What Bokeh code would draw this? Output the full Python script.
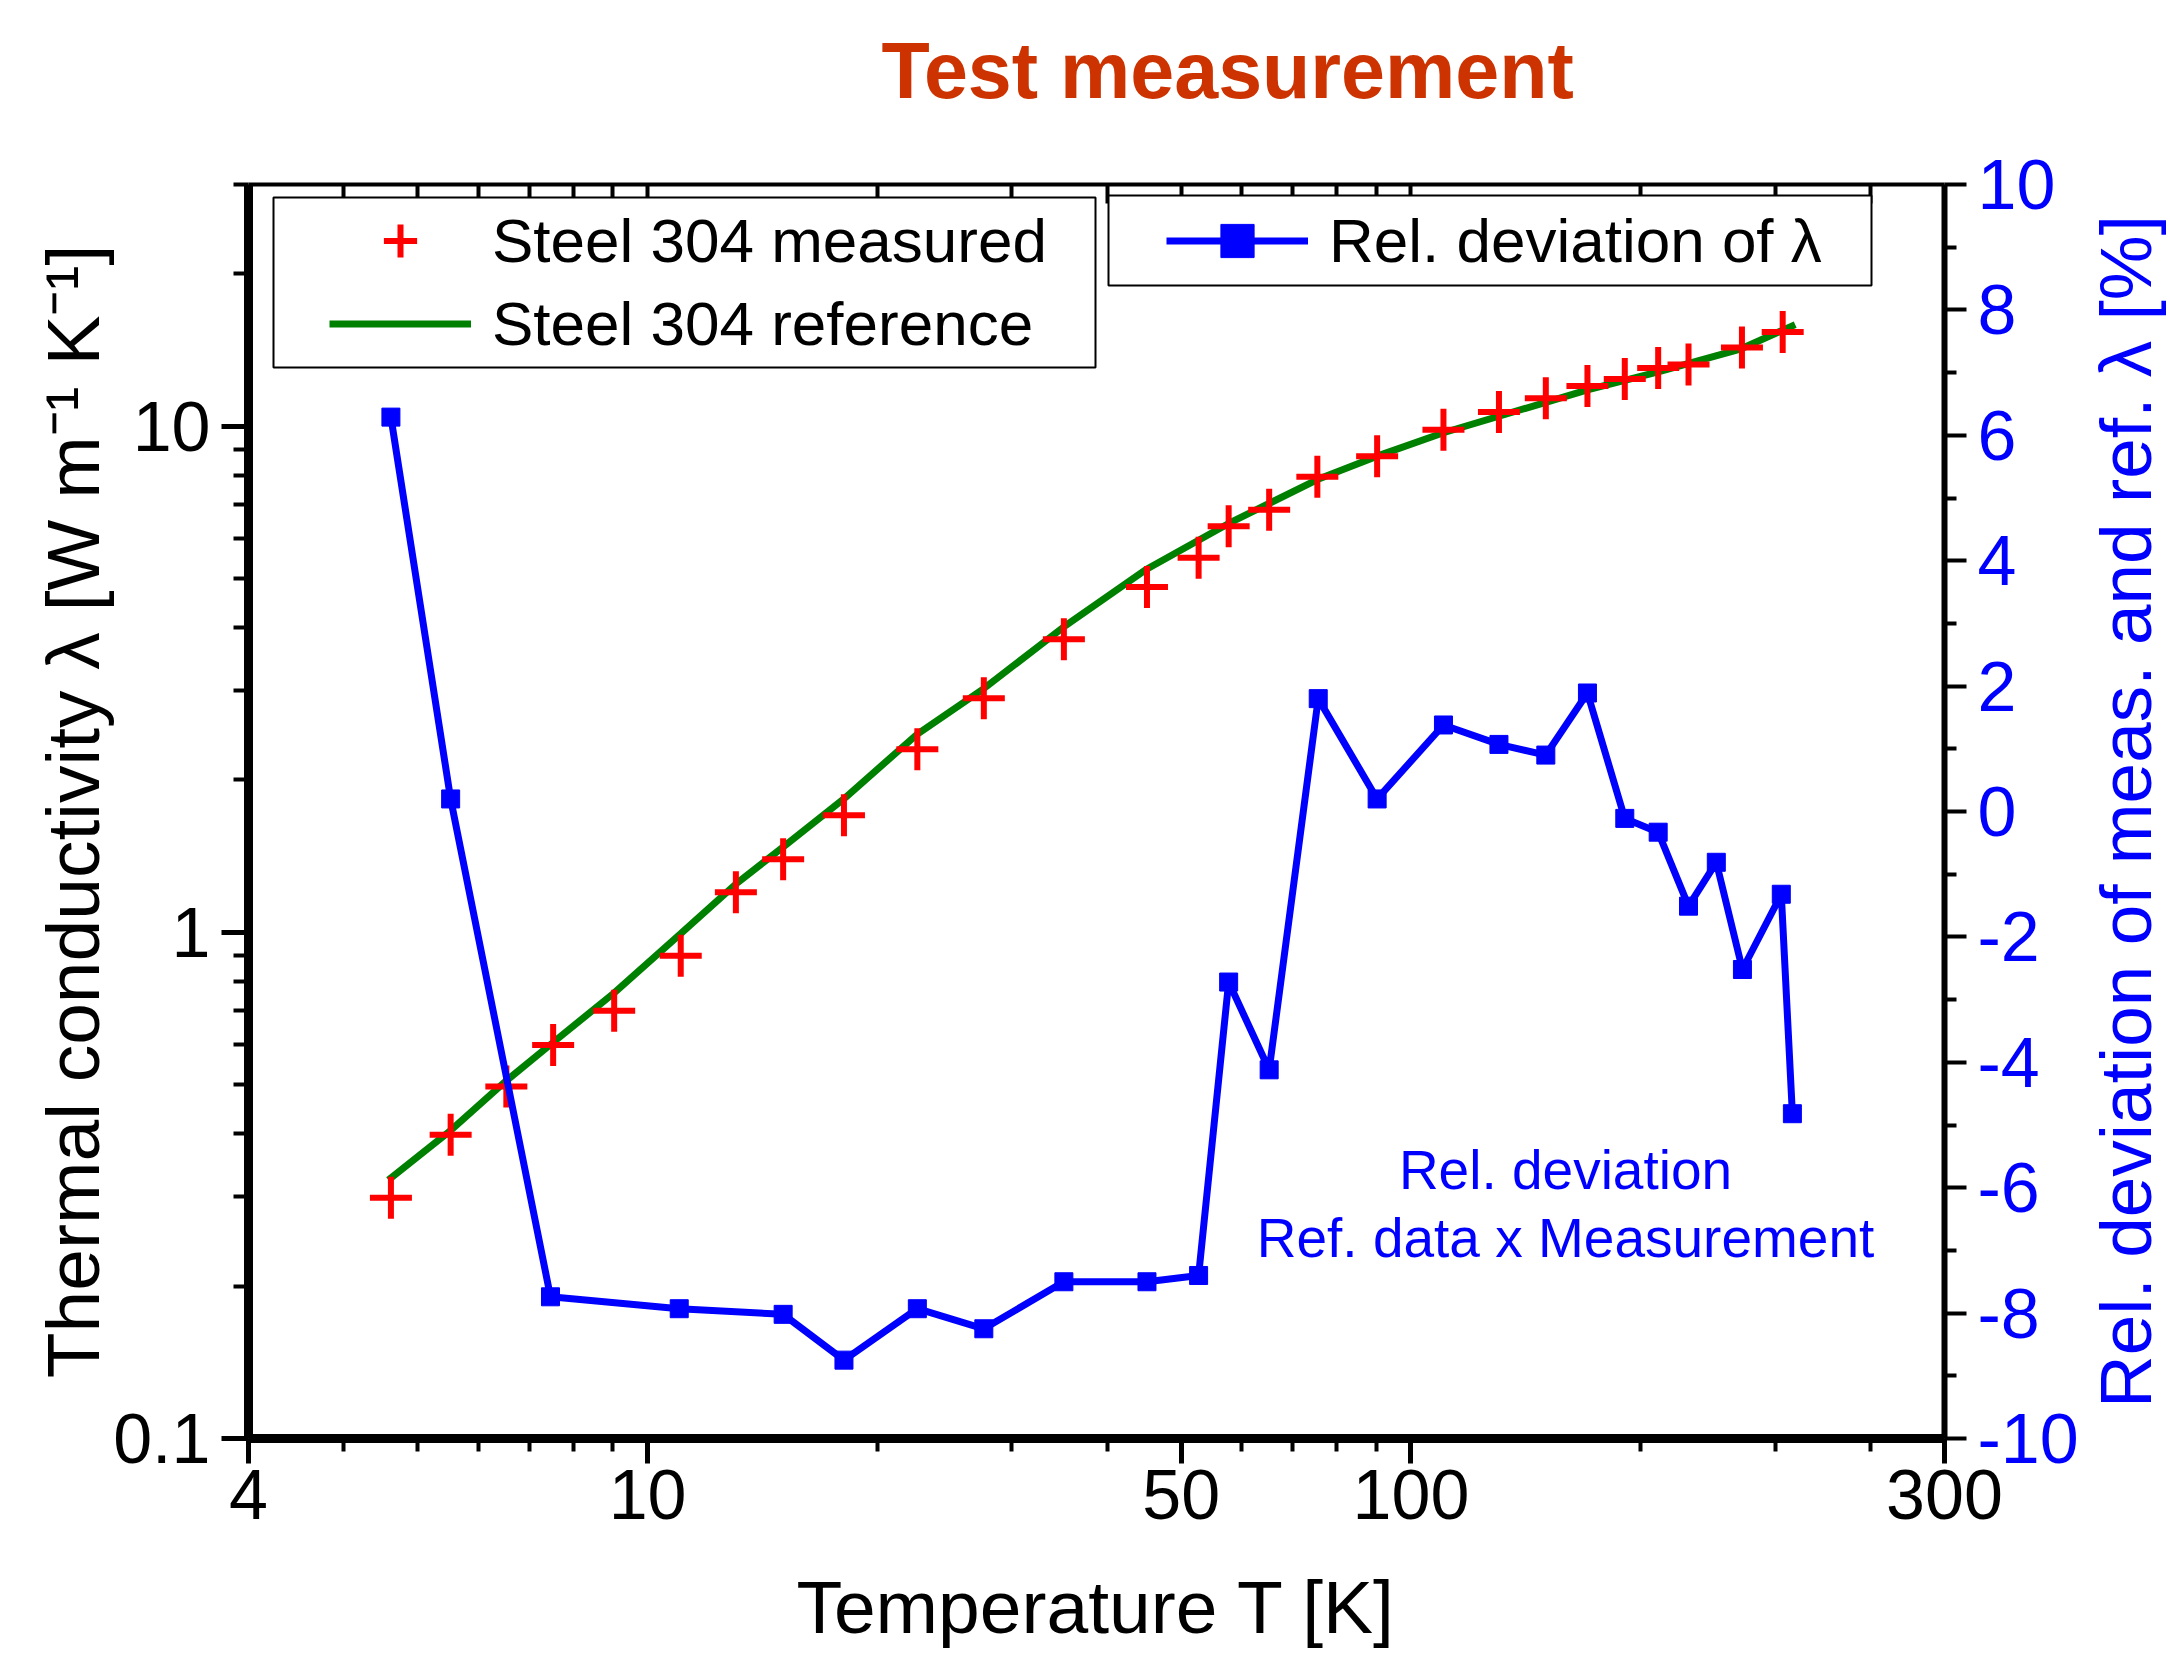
import math
from bokeh.plotting import figure
from bokeh.layouts import row, column
from bokeh.models import (Range1d, LogAxis, LinearAxis, LinearScale, FixedTicker, Legend,
                          LegendItem, BoxAnnotation, Label, Title)
from bokeh.embed import file_html
from bokeh.resources import INLINE

FONT = "'Liberation Sans', Arial, sans-serif"

# ---- data ----
t_meas = [4.61, 5.52, 6.53, 7.52, 9.04, 11.05, 13.05, 15.05, 18.08, 22.56, 27.57, 35.1,
          45.1, 52.7, 57.7, 65.2, 75.4, 90.3, 110.3, 130.4, 150.2, 170.3, 190.6, 210.8,
          231.0, 271.4, 306.9]
k_meas = [0.299, 0.398, 0.496, 0.599, 0.700, 0.899, 1.199, 1.394, 1.702, 2.30, 2.90, 3.79,
          4.81, 5.49, 6.34, 6.83, 7.94, 8.72, 9.83, 10.66, 11.35, 12.0, 12.39, 13.02,
          13.23, 14.30, 15.33]

t_ref = [4.575, 5.52, 6.53, 7.52, 9.04, 11.05, 13.05, 15.05, 18.08, 22.56, 27.57, 35.12,
         45.1, 57.7, 75.4, 90.3, 110.3, 150.2, 170.3, 210.8, 270.8, 318.7]
k_ref = [0.324, 0.406, 0.509, 0.606, 0.759, 0.994, 1.245, 1.474, 1.835, 2.463, 3.03, 4.015,
         5.22, 6.42, 7.84, 8.72, 9.70, 11.14, 11.79, 12.79, 14.21, 15.86]

t_dev = [4.61, 5.52, 7.46, 11.0, 15.05, 18.08, 22.56, 27.57, 35.1, 45.1, 52.7, 57.7, 65.2,
         75.6, 90.3, 110.3, 130.4, 150.2, 170.3, 190.6, 210.8, 231.0, 251.2, 271.8, 305.6, 316.0]
dev = [6.29, 0.20, -7.74, -7.93, -8.02, -8.75, -7.93, -8.25, -7.5, -7.5, -7.4, -2.72, -4.12,
       1.80, 0.20, 1.38, 1.07, 0.90, 1.89, -0.11, -0.33, -1.51, -0.81, -2.52, -1.32, -4.82]

x_major = [3, 10, 50, 100, 500]
x_major_labels = ["4", "10", "50", "100", "300"]
x_minor = [4, 5, 6, 7, 8, 9, 20, 30, 40, 60, 70, 80, 90, 200, 300, 400]
top_major = [10, 100]
top_minor = [4, 5, 6, 7, 8, 9, 20, 30, 40, 50, 60, 70, 80, 90, 200, 300, 400]
y_major = [0.1, 1, 10]
y_major_labels = ["0.1", "1", "10"]
y_minor = [0.2, 0.3, 0.4, 0.5, 0.6, 0.7, 0.8, 0.9, 2, 3, 4, 5, 6, 7, 8, 9, 20, 30]
dev_major = [-10, -8, -6, -4, -2, 0, 2, 4, 6, 8, 10]
dev_minor = [-9, -7, -5, -3, -1, 1, 3, 5, 7, 9]

# ---- title strip ----
tfig = figure(width=2170, height=140, x_range=Range1d(0, 1), y_range=Range1d(0, 1),
              output_backend="svg", toolbar_location=None,
              min_border_left=0, min_border_right=0, min_border_top=0, min_border_bottom=0)
tfig.axis.visible = False
tfig.xgrid.visible = False
tfig.ygrid.visible = False
tfig.outline_line_color = None
tfig.background_fill_color = "white"
tfig.border_fill_color = "white"
tfig.title = Title(text="Test measurement", align="left", offset=881, standoff=46,
                   text_font=FONT, text_font_size="79px", text_font_style="bold",
                   text_color="#CC3300")

# ---- main plot ----
p = figure(width=2081, height=1511, x_axis_type="log", y_axis_type="log",
           x_range=Range1d(3, 500), y_range=Range1d(0.1, 30),
           output_backend="svg", toolbar_location=None,
           min_border_left=248, min_border_right=134, min_border_top=44,
           min_border_bottom=205)
p.extra_y_ranges = {"dev": Range1d(-10, 10)}
p.extra_y_scales = {"dev": LinearScale()}
p.xgrid.visible = False
p.ygrid.visible = False
p.outline_line_color = None
p.background_fill_color = "white"
p.border_fill_color = "white"

# bottom axis
xa = p.xaxis[0]
xa.ticker = FixedTicker(ticks=x_major, minor_ticks=x_minor)
xa.major_label_overrides = {v: s for v, s in zip(x_major, x_major_labels)}
xa.axis_line_width = 9
xa.major_tick_line_width = 5
xa.minor_tick_line_width = 4
xa.major_tick_out = 25
xa.major_tick_in = 0
xa.minor_tick_out = 13
xa.minor_tick_in = 0
xa.major_label_standoff = 6
xa.major_label_text_font = FONT
xa.major_label_text_font_size = "70px"
xa.major_label_text_color = "black"
xa.axis_label = "Temperature T [K]"
xa.axis_label_text_font = FONT
xa.axis_label_text_font_size = "75px"
xa.axis_label_text_font_style = "normal"
xa.axis_label_text_color = "black"
xa.axis_label_standoff = 43

# left axis
ya = p.yaxis[0]
ya.ticker = FixedTicker(ticks=y_major, minor_ticks=y_minor)
ya.major_label_overrides = {v: s for v, s in zip(y_major, y_major_labels)}
ya.axis_line_width = 9
ya.major_tick_line_width = 5
ya.minor_tick_line_width = 4
ya.major_tick_out = 27
ya.major_tick_in = 0
ya.minor_tick_out = 15
ya.minor_tick_in = 0
ya.major_label_standoff = 11
ya.major_label_text_font = FONT
ya.major_label_text_font_size = "70px"
ya.major_label_text_color = "black"
ya.axis_label = "Thermal conductivity \u03bb [W m\u207b\u00b9 K\u207b\u00b9]"
ya.axis_label_text_font = FONT
ya.axis_label_text_font_size = "75px"
ya.axis_label_text_font_style = "normal"
ya.axis_label_text_color = "black"
ya.axis_label_standoff = -5

# right axis (deviation) - ticks and tick labels
ra = LinearAxis(y_range_name="dev", ticker=FixedTicker(ticks=dev_major, minor_ticks=dev_minor))
ra.major_label_overrides = {v: str(v) for v in dev_major}
ra.axis_line_width = 6
ra.major_tick_line_width = 4
ra.minor_tick_line_width = 4
ra.major_tick_out = 22
ra.major_tick_in = 0
ra.minor_tick_out = 12
ra.minor_tick_in = 0
ra.major_label_standoff = 11
ra.major_label_text_font = FONT
ra.major_label_text_font_size = "70px"
ra.major_label_text_color = "#0000FF"
p.add_layout(ra, "right")

# top axis: inward ticks only
ta = LogAxis(ticker=FixedTicker(ticks=top_major, minor_ticks=top_minor))
ta.major_label_overrides = {v: "" for v in top_major}
ta.major_label_text_font_size = "1px"
ta.major_label_standoff = 0
ta.axis_line_width = 4
ta.major_tick_line_width = 4
ta.minor_tick_line_width = 4
ta.major_tick_in = 25
ta.major_tick_out = 0
ta.minor_tick_in = 19
ta.minor_tick_out = 0
p.add_layout(ta, "above")

# data
green = p.line(t_ref, k_ref, line_color="#008000", line_width=7)
red = p.scatter(t_meas, k_meas, marker="cross", size=42, line_color="#FF0000", line_width=6)
blue_line = p.line(t_dev, dev, y_range_name="dev", line_color="#0000FF", line_width=7)
blue_pts = p.scatter(t_dev, dev, y_range_name="dev", marker="square", size=18,
                     fill_color="#0000FF", line_color="#0000FF")

# legend frames
box_kw = dict(left_units="screen", right_units="screen", top_units="screen",
              bottom_units="screen", fill_color="white", fill_alpha=1.0,
              line_color="black", line_width=2, line_alpha=1.0)
p.add_layout(BoxAnnotation(left=25, right=847, top=1241, bottom=1071, **box_kw))
p.add_layout(BoxAnnotation(left=860, right=1623, top=1243, bottom=1153, **box_kw))

leg_kw = dict(padding=0, spacing=0, margin=0, glyph_width=142, glyph_height=83,
              label_height=83, label_standoff=21, label_text_font=FONT,
              label_text_font_size="62px", label_text_color="black",
              border_line_alpha=0, background_fill_alpha=0, orientation="vertical")
leg1 = Legend(items=[LegendItem(label="Steel 304 measured", renderers=[red]),
                     LegendItem(label="Steel 304 reference", renderers=[green])],
              location=(81, 1073), **leg_kw)
leg2 = Legend(items=[LegendItem(label="Rel. deviation of \u03bb", renderers=[blue_line, blue_pts])],
              location=(918, 1156), **leg_kw)
p.add_layout(leg1, "center")
p.add_layout(leg2, "center")

# annotation text
p.add_layout(Label(x=1317, y=269, x_units="screen", y_units="screen", text="Rel. deviation",
                   text_align="center", text_baseline="alphabetic", text_font=FONT,
                   text_font_size="55px", text_color="#0000FF"))
p.add_layout(Label(x=1317, y=201, x_units="screen", y_units="screen",
                   text="Ref. data x Measurement", text_align="center",
                   text_baseline="alphabetic", text_font=FONT, text_font_size="55px",
                   text_color="#0000FF"))

# narrow companion panel carrying the right-hand axis title (reads bottom-to-top)
p2 = figure(width=89, height=1511, x_range=Range1d(0, 1), y_range=Range1d(-10, 10),
            output_backend="svg", toolbar_location=None,
            min_border_left=0, min_border_right=0, min_border_top=44,
            min_border_bottom=205)
p2.xaxis.visible = False
p2.xgrid.visible = False
p2.ygrid.visible = False
p2.outline_line_color = None
p2.background_fill_color = "white"
p2.border_fill_color = "white"
ry = p2.yaxis[0]
ry.ticker = FixedTicker(ticks=[])
ry.axis_line_color = None
ry.major_tick_line_color = None
ry.minor_tick_line_color = None
ry.major_tick_out = 0
ry.major_tick_in = 0
ry.minor_tick_out = 0
ry.minor_tick_in = 0
ry.major_label_standoff = 0
ry.axis_label = "Rel. deviation of meas. and ref. \u03bb [%]"
ry.axis_label_text_font = FONT
ry.axis_label_text_font_size = "73px"
ry.axis_label_text_font_style = "normal"
ry.axis_label_text_color = "#0000FF"
ry.axis_label_standoff = 0

layout = column(tfig, row(p, p2, spacing=0), spacing=0)
open("out.html", "w").write(file_html(layout, INLINE))
